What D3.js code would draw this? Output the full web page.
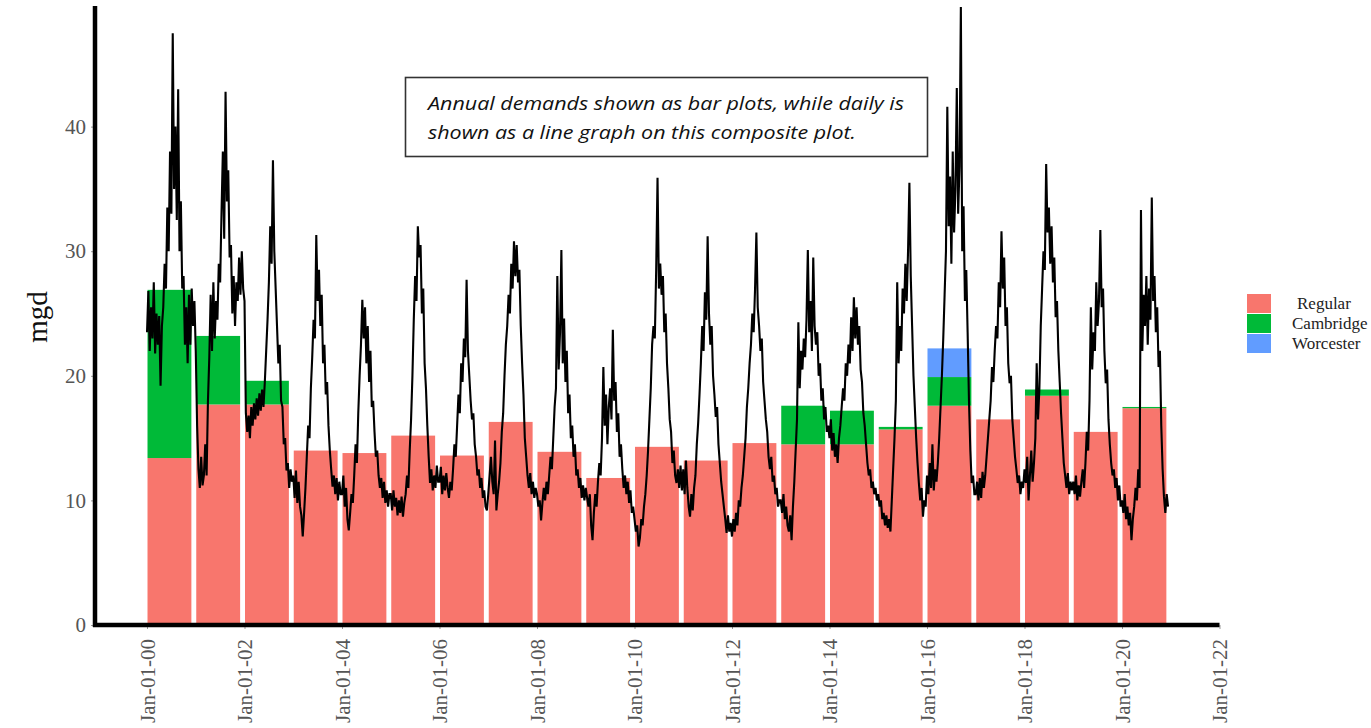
<!DOCTYPE html>
<html>
<head>
<meta charset="utf-8">
<script src="https://cdn.jsdelivr.net/npm/d3@7"></script>
<style>
  body { margin: 0; background: #fff; }
  svg { display: block; }
  .axis text { font-family: "Liberation Serif", "DejaVu Serif", serif; fill: #555; }
  .axis line { stroke: #999; }
</style>
</head>
<body>
<svg id="chart" width="1371" height="728"></svg>
<script>
// annual demand bars (mgd)
const years = [2000, 2001, 2002, 2003, 2004, 2005, 2006, 2007, 2008, 2009, 2010,
  2011, 2012, 2013, 2014, 2015, 2016, 2017, 2018, 2019, 2020];
const regular = [13.4, 17.7, 17.7, 14.0, 13.8, 15.2, 13.6, 16.3, 13.9, 11.8, 14.3,
  13.2, 14.6, 14.5, 14.5, 15.7, 17.6, 16.5, 18.4, 15.5, 17.4];
const cambridge = [13.5, 5.5, 1.9, 0, 0, 0, 0, 0, 0, 0, 0,
  0, 0, 3.1, 2.7, 0.2, 2.3, 0, 0.5, 0, 0.1];
const worcester = [0, 0, 0, 0, 0, 0, 0, 0, 0, 0, 0,
  0, 0, 0, 0, 0, 2.3, 0, 0, 0, 0];

const seriesKeys = ["Regular", "Cambridge", "Worcester"];
const seriesColors = ["#F8766D", "#00BA38", "#619CFF"];

const yTicks = [0, 10, 20, 30, 40];
const xTicks = [2000, 2002, 2004, 2006, 2008, 2010, 2012, 2014, 2016, 2018, 2020, 2022];

// daily demand, every 10 days (36 readings a year)
const dailyDemand = [
  [23.5,26.8,22.0,25.5,23.0,27.5,21.8,25.0,22.5,24.8,19.2,24.0,25.5,29.0,27.0,33.5,30.0,38.0,33.0,47.5,35.0,40.0,32.5,43.0,30.0,34.0,27.0,28.0,22.5,25.5,21.0,26.5,22.5,27.0,24.0,26.0],
  [22.0,16.0,12.5,11.0,13.5,11.2,12.0,14.5,12.0,18.0,21.5,26.5,22.0,27.5,23.0,26.0,24.5,29.0,27.5,33.0,38.0,31.0,42.8,34.0,36.5,29.5,30.5,25.0,28.0,24.0,27.5,26.0,29.5,26.5,30.0,27.0],
  [26.0,17.0,15.5,16.8,15.0,17.5,16.0,17.8,16.5,18.2,16.8,18.6,17.2,18.9,17.5,19.5,22.0,24.5,27.5,32.0,29.0,37.3,30.0,27.0,24.0,21.0,22.5,18.0,17.5,14.5,15.0,12.4,13.0,11.0,12.5,11.5],
  [12.0,10.2,12.4,9.8,11.5,9.5,8.8,7.1,9.0,11.0,13.5,16.0,15.0,19.0,21.5,24.5,23.0,31.3,26.0,28.5,24.0,26.5,21.0,22.5,18.5,19.5,16.0,14.0,12.5,11.1,12.0,10.5,11.8,10.0,11.5,10.5],
  [10.5,12.0,9.5,11.0,8.5,7.6,9.0,10.5,9.8,12.0,14.5,13.0,17.0,20.0,22.5,26.1,23.0,25.5,21.0,24.0,19.5,22.0,17.5,18.0,15.5,13.5,14.0,12.0,11.0,11.8,10.2,11.5,9.8,10.8,9.5,10.5],
  [10.5,9.2,10.8,9.5,10.2,8.8,10.0,9.0,10.3,8.7,9.8,10.5,12.0,11.0,14.0,16.5,20.0,24.5,28.0,26.0,32.0,29.5,30.5,25.0,27.0,21.0,19.0,16.0,13.5,11.4,12.5,10.8,12.0,11.0,12.8,11.5],
  [11.5,12.7,10.5,12.0,10.8,12.2,11.0,10.2,11.5,10.8,12.5,14.5,13.5,16.0,18.5,17.0,21.0,19.5,23.0,21.5,27.7,22.0,20.0,18.0,16.5,17.0,14.5,13.5,12.0,12.5,11.0,11.8,10.2,10.8,9.5,9.2],
  [10.5,12.0,13.5,11.5,10.5,14.8,9.2,10.5,11.5,13.0,15.5,17.0,20.0,22.5,24.0,26.5,25.0,29.0,27.0,30.8,28.0,30.5,27.5,28.5,24.0,21.0,18.5,15.0,13.5,12.0,11.0,12.2,10.5,11.5,10.2,11.0],
  [10.5,9.5,10.0,8.4,9.8,11.0,10.0,11.5,10.5,12.0,13.5,12.5,15.0,17.5,19.0,28.0,20.5,23.5,30.1,21.0,24.6,19.5,22.0,17.0,18.5,15.0,16.0,13.5,14.5,12.0,12.5,11.0,11.8,10.2,11.2,10.0],
  [11.0,10.2,9.5,10.5,8.0,6.8,9.0,10.5,9.5,11.5,13.0,12.0,15.0,20.7,16.0,18.5,14.5,17.5,19.0,16.5,23.7,18.0,19.5,15.5,17.0,13.5,14.5,12.5,11.0,12.0,10.5,11.5,9.8,10.8,9.0,9.5],
  [8.5,7.5,8.0,6.3,7.0,8.5,8.0,9.5,10.5,12.0,14.0,16.5,19.0,22.5,24.0,23.0,28.5,35.9,27.0,29.0,26.5,28.0,23.5,25.0,21.0,19.0,16.5,15.5,13.0,14.0,12.0,11.4,12.5,11.0,12.8,10.8],
  [12.5,10.5,13.2,11.0,9.5,8.7,10.5,9.2,11.0,12.0,14.5,16.2,18.5,21.0,24.0,22.0,26.7,24.5,31.2,25.0,22.5,24.0,20.0,18.5,16.7,17.5,14.5,13.0,11.5,10.5,9.5,8.5,7.4,8.8,7.5,8.2],
  [7.1,8.5,7.5,9.0,8.0,10.0,9.5,11.0,12.0,13.5,15.0,17.5,19.0,21.0,22.5,25.0,23.5,26.9,31.5,25.5,24.0,22.0,23.0,19.5,18.0,16.5,15.5,13.5,12.5,13.5,11.5,12.0,10.5,11.0,9.5,10.0],
  [10.0,9.0,10.5,8.5,9.5,8.0,7.5,8.8,6.8,9.5,11.5,14.0,16.5,24.3,19.0,22.0,20.5,23.0,21.5,24.5,30.1,23.5,26.0,22.0,29.5,24.0,22.5,23.5,20.0,21.0,18.0,19.0,16.5,17.5,15.5,16.0],
  [15.0,16.5,14.0,15.4,13.5,14.5,13.0,15.0,16.0,17.5,19.0,18.0,21.0,20.0,22.5,21.0,24.7,22.0,26.3,23.0,25.5,22.5,24.0,20.5,19.5,17.0,16.0,14.5,13.0,12.0,12.5,11.0,11.5,10.5,11.0,10.0],
  [10.5,9.5,10.0,8.5,9.0,8.0,8.8,7.8,8.5,7.5,10.0,12.5,15.0,18.0,27.5,21.0,24.0,22.0,27.0,25.0,29.0,26.0,30.0,35.5,28.0,24.0,20.0,17.5,15.0,13.0,11.4,10.0,11.0,8.7,10.0,9.5],
  [12.0,10.5,13.0,11.0,14.5,10.8,12.5,11.5,13.0,15.0,17.5,20.0,23.0,26.5,30.0,41.6,32.0,36.0,29.0,38.0,31.5,35.0,43.1,33.0,36.8,49.6,30.0,33.6,26.0,28.5,23.5,18.0,14.0,11.4,12.0,10.5],
  [10.5,11.5,10.0,11.8,10.2,12.3,11.0,12.0,13.5,15.0,16.5,18.0,20.7,19.5,22.0,24.0,23.0,27.5,25.5,31.6,27.0,29.5,24.0,25.5,21.0,19.4,20.0,16.5,15.0,13.5,12.5,11.4,12.0,10.5,11.5,11.0],
  [12.5,11.4,13.5,10.0,12.0,14.0,11.5,13.0,15.0,21.0,16.5,19.0,24.0,27.0,30.0,28.5,37.0,31.5,33.5,29.0,32.0,27.5,29.5,24.7,26.0,22.0,19.5,17.0,15.0,13.0,12.0,11.0,12.2,10.5,11.5,10.8],
  [11.5,10.5,12.0,10.0,11.2,10.3,11.5,12.5,11.0,13.0,15.5,14.0,18.0,25.5,20.5,23.5,22.0,27.5,24.0,26.0,31.7,25.5,27.0,22.0,19.4,20.5,16.5,14.5,13.0,12.0,12.5,11.0,11.8,10.0,11.2,9.5],
  [10.0,9.0,10.5,8.5,9.5,8.0,9.0,6.8,8.5,9.5,11.0,10.0,12.5,11.0,33.3,22.0,26.5,24.0,28.0,22.5,27.0,24.5,34.3,26.0,28.0,23.5,25.5,20.7,22.0,16.0,12.5,10.3,9.0,10.5,9.5]
];

const svg = d3.select("#chart");
const x = d3.scaleLinear().domain([1998.933, 2022]).range([95, 1219.5]);
const y = d3.scaleLinear().domain([0, 49.6]).range([625, 7]);
const color = d3.scaleOrdinal().domain(seriesKeys).range(seriesColors);

// stacked bars
const table = years.map((yr, i) => ({
  year: yr, Regular: regular[i], Cambridge: cambridge[i], Worcester: worcester[i]
}));
const stacked = d3.stack().keys(seriesKeys)(table);

svg.append("g")
  .selectAll("g")
  .data(stacked)
  .join("g")
  .attr("fill", (d) => color(d.key))
  .selectAll("rect")
  .data((d) => d.filter((s) => s[1] - s[0] > 0))
  .join("rect")
  .attr("x", (d) => x(d.data.year + 0.01))
  .attr("width", (d) => x(d.data.year + 0.91) - x(d.data.year + 0.01))
  .attr("y", (d) => y(d[1]))
  .attr("height", (d) => y(d[0]) - y(d[1]));

// daily line
const points = [];
dailyDemand.forEach((vals, yi) => {
  vals.forEach((v, i) => points.push({ t: years[yi] + i / 36, v: v }));
});

svg.append("path")
  .datum(points)
  .attr("fill", "none")
  .attr("stroke", "#000")
  .attr("stroke-width", 2.1)
  .attr("stroke-linejoin", "miter")
  .attr("d", d3.line().x((d) => x(d.t)).y((d) => y(d.v)));

// axes
const yAxis = svg.append("g")
  .attr("class", "axis")
  .attr("transform", "translate(95,0)")
  .call(d3.axisLeft(y).tickValues(yTicks).tickSize(4).tickPadding(5));
yAxis.select(".domain").remove();
yAxis.selectAll("text").style("font-size", "21px");

const fmtYear = (yr) => "Jan-01-" + String(yr % 100).padStart(2, "0");
const xAxis = svg.append("g")
  .attr("class", "axis")
  .attr("transform", "translate(0,625)")
  .call(d3.axisBottom(x).tickValues(xTicks).tickSize(4).tickFormat(fmtYear));
xAxis.select(".domain").remove();
xAxis.selectAll("text")
  .style("font-size", "21px")
  .attr("transform", "rotate(-90)")
  .attr("text-anchor", "end")
  .attr("x", -14)
  .attr("y", 0)
  .attr("dy", "0.35em");

svg.append("line")
  .attr("x1", 95).attr("x2", 95).attr("y1", 6).attr("y2", 627)
  .attr("stroke", "#000").attr("stroke-width", 4.5);
svg.append("line")
  .attr("x1", 93).attr("x2", 1219.5).attr("y1", 625).attr("y2", 625)
  .attr("stroke", "#000").attr("stroke-width", 4.5);

svg.append("text")
  .attr("transform", "translate(47,317) rotate(-90)")
  .attr("text-anchor", "middle")
  .style("font-family", "'Liberation Serif', serif")
  .style("font-size", "29px")
  .attr("fill", "#111")
  .text("mgd");

// note box
svg.append("rect")
  .attr("x", 405.5).attr("y", 77.5).attr("width", 522).attr("height", 79)
  .attr("fill", "#fff").attr("stroke", "#333").attr("stroke-width", 1.6);
const noteLines = [
  "Annual demands shown as bar plots, while daily is",
  "shown as a line graph on this composite plot."
];
const noteWidths = [476, 428];
svg.append("g")
  .selectAll("text")
  .data(noteLines)
  .join("text")
  .attr("x", 428)
  .attr("y", (d, i) => 110 + i * 29)
  .attr("textLength", (d, i) => noteWidths[i])
  .attr("lengthAdjust", "spacingAndGlyphs")
  .style("font-family", "'Open Sans', 'Noto Sans', sans-serif")
  .style("font-style", "italic")
  .style("font-size", "18.5px")
  .attr("fill", "#111")
  .text((d) => d);

// legend
const legend = svg.append("g").attr("transform", "translate(1247,294)");
const item = legend.selectAll("g")
  .data(seriesKeys)
  .join("g")
  .attr("transform", (d, i) => `translate(0,${i * 20})`);
item.append("rect")
  .attr("width", 24).attr("height", 19)
  .attr("fill", (d) => color(d));
item.append("text")
  .attr("x", (d, i) => (i === 0 ? 50 : 45))
  .attr("y", 15)
  .style("font-family", "'Liberation Serif', serif")
  .style("font-size", "17px")
  .attr("fill", "#222")
  .text((d) => d);
</script>
</body>
</html>
